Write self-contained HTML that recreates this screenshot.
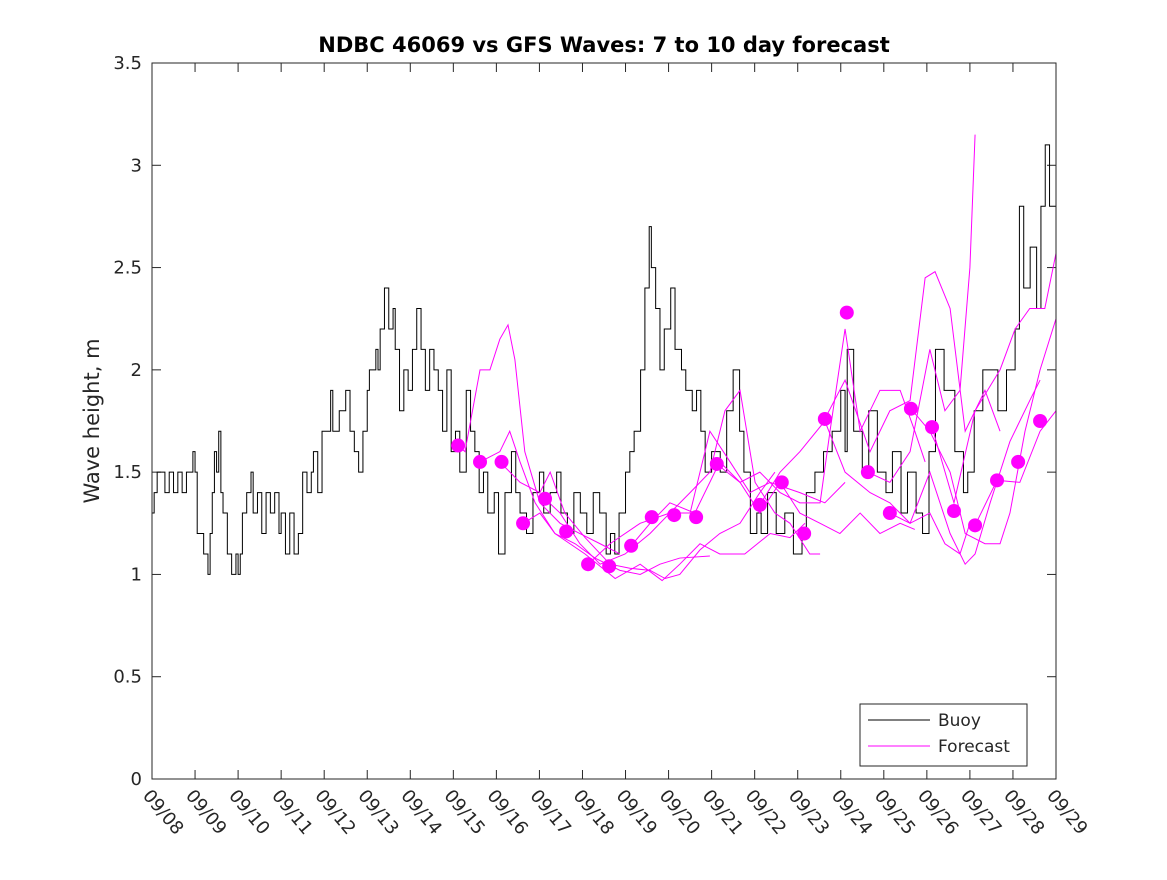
<!DOCTYPE html>
<html><head><meta charset="utf-8"><style>
body{margin:0;background:#fff}
svg text{font-family:"DejaVu Sans","Liberation Sans",sans-serif;fill:#262626}
</style></head><body>
<svg id="chart" width="1167" height="875" xmlns="http://www.w3.org/2000/svg">
<rect width="1167" height="875" fill="#fff"/>
<text x="604" y="52" text-anchor="middle" font-size="21" font-weight="bold" style="fill:#000">NDBC 46069 vs GFS Waves: 7 to 10 day forecast</text>
<text transform="translate(99,421) rotate(-90)" text-anchor="middle" font-size="21">Wave height, m</text>
<g id="axes"></g>
<g id="marks"></g>
<rect x="152" y="63" width="904" height="716" fill="none" stroke="#262626" stroke-width="1"/>
<g>
<rect x="860" y="704" width="167" height="62" fill="#fff" stroke="#262626"/>
<line x1="868" y1="720" x2="930" y2="720" stroke="#000"/>
<text x="938" y="726" font-size="17">Buoy</text>
<line x1="868" y1="746" x2="930" y2="746" stroke="#f0f"/>
<text x="938" y="752" font-size="17">Forecast</text>
</g>
</svg>
<script>
const xTickLabels=["09/08","09/09","09/10","09/11","09/12","09/13","09/14","09/15","09/16","09/17","09/18","09/19","09/20","09/21","09/22","09/23","09/24","09/25","09/26","09/27","09/28","09/29"];
const yTicks=[0,0.5,1,1.5,2,2.5,3,3.5];
const buoyT=[0,0.05,0.12,0.3,0.4,0.5,0.6,0.7,0.8,0.95,1.0,1.05,1.2,1.3,1.35,1.4,1.45,1.5,1.55,1.6,1.65,1.75,1.85,1.95,2.0,2.05,2.1,2.2,2.3,2.35,2.45,2.55,2.65,2.75,2.85,2.95,3.0,3.1,3.2,3.3,3.4,3.5,3.6,3.7,3.75,3.85,3.95,4.05,4.15,4.2,4.35,4.5,4.6,4.7,4.8,4.9,5.0,5.05,5.2,5.25,5.3,5.4,5.5,5.6,5.65,5.75,5.85,5.95,6.05,6.15,6.25,6.35,6.45,6.55,6.65,6.75,6.85,6.95,7.05,7.15,7.3,7.4,7.5,7.6,7.7,7.8,7.95,8.05,8.2,8.35,8.45,8.55,8.7,8.85,9.0,9.1,9.25,9.4,9.5,9.65,9.8,9.95,10.1,10.25,10.4,10.55,10.65,10.75,10.85,11.0,11.1,11.2,11.35,11.45,11.55,11.6,11.7,11.8,11.9,12.05,12.15,12.3,12.4,12.55,12.65,12.75,12.85,13.0,13.2,13.35,13.5,13.65,13.75,13.9,14.05,14.15,14.3,14.5,14.7,14.9,15.1,15.2,15.4,15.6,15.8,16.0,16.1,16.15,16.3,16.5,16.65,16.85,17.05,17.2,17.4,17.55,17.75,17.9,18.05,18.2,18.4,18.65,18.85,18.95,19.1,19.3,19.5,19.65,19.85,20.05,20.15,20.25,20.4,20.55,20.65,20.75,20.85,21];
const buoyH=[1.3,1.4,1.5,1.4,1.5,1.4,1.5,1.4,1.5,1.6,1.5,1.2,1.1,1.0,1.2,1.4,1.6,1.5,1.7,1.4,1.3,1.1,1.0,1.1,1.0,1.1,1.3,1.4,1.5,1.3,1.4,1.2,1.4,1.3,1.4,1.2,1.3,1.1,1.3,1.1,1.2,1.5,1.4,1.5,1.6,1.4,1.7,1.7,1.9,1.7,1.8,1.9,1.7,1.6,1.5,1.7,1.9,2.0,2.1,2.0,2.2,2.4,2.2,2.3,2.1,1.8,2.0,1.9,2.1,2.3,2.1,1.9,2.1,2.0,1.9,1.7,2.0,1.6,1.7,1.5,1.9,1.7,1.6,1.4,1.5,1.3,1.4,1.1,1.4,1.6,1.4,1.3,1.2,1.4,1.5,1.3,1.4,1.5,1.3,1.2,1.4,1.3,1.2,1.4,1.3,1.1,1.2,1.1,1.3,1.5,1.6,1.7,2.0,2.4,2.7,2.5,2.3,2.0,2.2,2.4,2.1,2.0,1.9,1.8,1.9,1.7,1.5,1.6,1.5,1.8,2.0,1.7,1.5,1.2,1.3,1.2,1.4,1.2,1.3,1.1,1.2,1.4,1.5,1.6,1.7,1.9,1.6,2.1,1.7,1.5,1.8,1.5,1.4,1.6,1.3,1.5,1.3,1.2,1.6,2.1,1.9,1.6,1.4,1.5,1.8,2.0,2.0,1.8,2.0,2.2,2.8,2.4,2.6,2.3,2.8,3.1,2.8,2.8];
const fcT=[
[7.11,7.27,7.62,7.85,8.08,8.27,8.43,8.66,9.01,9.48,9.94,10.41,10.87],
[7.62,8.08,8.31,8.55,8.90,9.36,9.83,10.29,10.87,11.34,11.80,12.26,12.96],
[8.08,8.55,9.01,9.25,9.59,10.06,10.64,11.10,11.57,11.92,12.26,12.73,13.19,13.66,14.12,14.47],
[8.62,9.01,9.36,10.06,10.76,11.34,11.85,12.26,12.73,13.19,13.77,14.36,14.82,15.17],
[9.13,9.48,9.94,10.41,10.99,11.57,12.03,12.50,12.96,13.31,13.66,14.01,14.47,14.82,15.28,15.52],
[10.13,10.64,11.34,12.03,12.50,12.96,13.43,13.89,14.36,15.05,15.63,16.10],
[11.13,11.57,12.03,12.61,13.19,13.66,14.12,14.59,15.05,15.52,15.98,16.45,16.91,17.38,17.72],
[13.12,13.66,14.12,14.59,15.05,15.52,15.75,16.10,16.45,16.91,17.38,17.72,17.96],
[14.12,14.59,15.05,15.63,16.10,16.68,17.14,17.61,18.07,18.42,18.77,19.00],
[15.63,16.10,16.68,17.14,17.61,17.96,18.19,18.54,18.89,19.35,19.70],
[16.63,17.14,17.61,18.07,18.42,18.77,19.00,19.12],
[17.14,17.61,18.07,18.54,18.89,19.12,19.47,19.70,19.93,20.39,20.63],
[17.63,18.07,18.54,18.89,19.35,19.70,19.93,20.28,20.63,21.0],
[18.12,18.63,19.12,19.70,20.05,20.39,20.74,21.0],
[19.12,19.63,20.16,20.63,21.0]];
const fcH=[
[1.63,1.6,2.0,2.0,2.15,2.22,2.05,1.6,1.35,1.25,1.2,1.15,1.1],
[1.55,1.6,1.7,1.55,1.35,1.2,1.15,1.08,1.02,1.0,1.05,1.08,1.09],
[1.55,1.45,1.4,1.5,1.3,1.18,1.05,1.03,1.02,0.98,1.0,1.12,1.2,1.25,1.4,1.5],
[1.25,1.3,1.2,1.1,0.98,1.05,0.97,1.05,1.15,1.1,1.1,1.2,1.18,1.25],
[1.37,1.3,1.15,1.05,1.1,1.2,1.3,1.4,1.5,1.8,1.9,1.45,1.3,1.25,1.1,1.1],
[1.05,1.15,1.25,1.3,1.3,1.7,1.55,1.4,1.45,1.4,1.35,1.45],
[1.14,1.25,1.35,1.3,1.55,1.45,1.3,1.45,1.3,1.25,1.2,1.3,1.2,1.25,1.22],
[1.54,1.45,1.5,1.4,1.35,1.35,1.7,2.2,1.7,1.9,1.9,1.7,1.55],
[1.34,1.5,1.6,1.75,1.5,1.4,1.35,1.25,1.3,1.15,1.1,1.25],
[1.76,1.95,1.6,1.8,1.85,2.45,2.48,2.3,1.7,1.9,1.7],
[1.5,1.45,1.6,2.1,1.8,1.9,2.5,3.15],
[1.3,1.25,1.5,1.2,1.05,1.1,1.35,1.5,1.65,1.85,1.95],
[1.81,1.7,1.5,1.2,1.15,1.15,1.3,1.7,2.0,2.25],
[1.72,1.35,1.8,2.0,2.2,2.3,2.3,2.57],
[1.24,1.46,1.45,1.7,1.8]];
const dotT=[7.11,7.62,8.12,8.62,9.13,9.62,10.13,10.62,11.13,11.61,12.13,12.64,13.12,14.12,14.63,15.15,15.63,16.14,16.63,17.14,17.63,18.12,18.63,19.12,19.63,20.12,20.63];
const dotH=[1.63,1.55,1.55,1.25,1.37,1.21,1.05,1.04,1.14,1.28,1.29,1.28,1.54,1.34,1.45,1.2,1.76,2.28,1.5,1.3,1.81,1.72,1.31,1.24,1.46,1.55,1.75];

const X0=152,X1=1056,Y0=779,Y1=63;
const xs=d=>X0+(X1-X0)*d/21;
const ys=v=>Y0-(Y0-Y1)*v/3.5;
const NS="http://www.w3.org/2000/svg";
const axes=document.getElementById('axes'),marks=document.getElementById('marks');
function mk(tag,attrs,parent){const e=document.createElementNS(NS,tag);for(const k in attrs)e.setAttribute(k,attrs[k]);parent.appendChild(e);return e;}
yTicks.forEach(v=>{
  const y=ys(v);
  const t1=mk('line',{x1:X0,x2:X0+9,y1:y,y2:y,stroke:'#262626'},axes);
  
  
  mk('line',{x1:X1-9,x2:X1,y1:y,y2:y,stroke:'#262626'},axes);
  const t=mk('text',{x:X0-10,y:y+6,'text-anchor':'end','font-size':'18'},axes);
  t.textContent=String(v);
  
  
});
xTickLabels.forEach((s,i)=>{
  const x=xs(i);
  const l=mk('line',{x1:x,x2:x,y1:Y0,y2:Y0-9,stroke:'#262626'},axes);
  
  
  mk('line',{x1:x,x2:x,y1:Y1,y2:Y1+9,stroke:'#262626'},axes);
  const t=mk('text',{transform:`translate(${x-10},${Y0+17}) rotate(50)`,'font-size':'18'},axes);
  t.textContent=s;
  
  
});
let d='';
buoyT.forEach((t,i)=>{const x=xs(t),y=ys(buoyH[i]);if(i===0)d+=`M${x},${y}`;else d+=`H${x}V${y}`;});
d+=`H${xs(21)}`;
const bp=mk('path',{d:d,fill:'none',stroke:'#000','stroke-width':'1'},marks);


fcT.forEach((ts,k)=>{
  const p=mk('polyline',{points:ts.map((t,i)=>xs(t)+','+ys(fcH[k][i])).join(' '),fill:'none',stroke:'#f0f','stroke-width':'1'},marks);
  
  
});
dotT.forEach((t,i)=>{
  const c=mk('circle',{cx:xs(t),cy:ys(dotH[i]),r:7,fill:'#f0f'},marks);
  
  
});
</script>
</body></html>
